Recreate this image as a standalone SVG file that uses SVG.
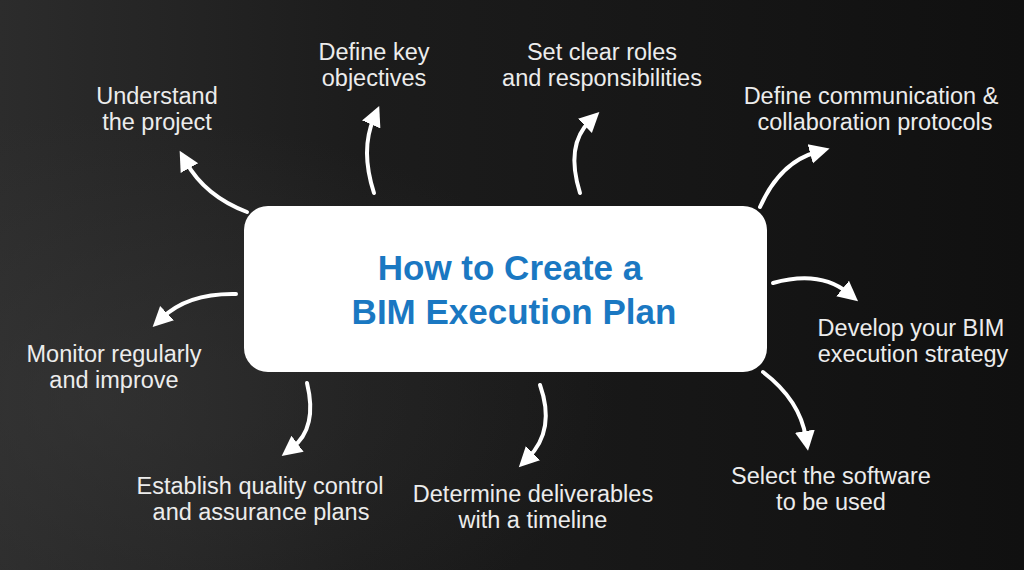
<svg xmlns="http://www.w3.org/2000/svg" width="1024" height="570" viewBox="0 0 1024 570">
<defs>
<linearGradient id="bg" x1="0" y1="0" x2="1" y2="0">
<stop offset="0" stop-color="#2c2c2c"/>
<stop offset="0.35" stop-color="#1c1c1c"/>
<stop offset="1" stop-color="#101010"/>
</linearGradient>
<radialGradient id="bg2" cx="0.1" cy="0.7" r="0.5">
<stop offset="0" stop-color="#3a3a3a" stop-opacity="0.5"/>
<stop offset="1" stop-color="#3a3a3a" stop-opacity="0"/>
</radialGradient>
<marker id="ah" viewBox="0 0 22 22" refX="7" refY="11" markerWidth="22" markerHeight="22" markerUnits="userSpaceOnUse" orient="auto">
<path d="M0,1 L20,11 L0,21 z" fill="#ffffff"/>
</marker>
<style>
.lbl{font-family:"Liberation Sans",Arial,sans-serif;font-size:23.5px;fill:#ececec;text-anchor:middle}
.title{font-family:"Liberation Sans",Arial,sans-serif;font-size:35px;font-weight:bold;fill:#1a78c2;text-anchor:middle}
.conn{fill:none;stroke:#ffffff;stroke-width:4;stroke-linecap:round;marker-end:url(#ah)}
</style>
</defs>
<rect width="1024" height="570" fill="url(#bg)"/>
<rect width="1024" height="570" fill="url(#bg2)"/>
<g id="center">
<rect x="244" y="206" width="523" height="166" rx="24" fill="#ffffff"/>
<text class="title" x="510" y="280">How to Create a</text>
<text class="title" x="514" y="324">BIM Execution Plan</text>
</g>
<g id="connectors">
<path class="conn" d="M247,212 Q205,196 186,162"/>
<path class="conn" d="M374,193 Q360,150 374,118"/>
<path class="conn" d="M580,193 Q565,145 590,121"/>
<path class="conn" d="M760,207 Q780,162 817,152"/>
<path class="conn" d="M773,283 Q820,270 848,293"/>
<path class="conn" d="M763,372 Q800,400 806,438"/>
<path class="conn" d="M540,385 Q556,430 528,458"/>
<path class="conn" d="M307,383 Q318,428 292,448"/>
<path class="conn" d="M236,294 Q188,293 162,318"/>
</g>
<g id="n1"><text class="lbl" x="157" y="104">Understand</text><text class="lbl" x="157" y="130">the project</text></g>
<g id="n2"><text class="lbl" x="374" y="60">Define key</text><text class="lbl" x="374" y="86">objectives</text></g>
<g id="n3"><text class="lbl" x="602" y="60">Set clear roles</text><text class="lbl" x="602" y="86">and responsibilities</text></g>
<g id="n4"><text class="lbl" x="871" y="104">Define communication &amp;</text><text class="lbl" x="875" y="130">collaboration protocols</text></g>
<g id="n5"><text class="lbl" x="911" y="336">Develop your BIM</text><text class="lbl" x="913" y="362">execution strategy</text></g>
<g id="n6"><text class="lbl" x="831" y="484">Select the software</text><text class="lbl" x="831" y="510">to be used</text></g>
<g id="n7"><text class="lbl" x="533" y="502">Determine deliverables</text><text class="lbl" x="533" y="528">with a timeline</text></g>
<g id="n8"><text class="lbl" x="260" y="494">Establish quality control</text><text class="lbl" x="261" y="520">and assurance plans</text></g>
<g id="n9"><text class="lbl" x="114" y="362">Monitor regularly</text><text class="lbl" x="114" y="388">and improve</text></g>
</svg>
